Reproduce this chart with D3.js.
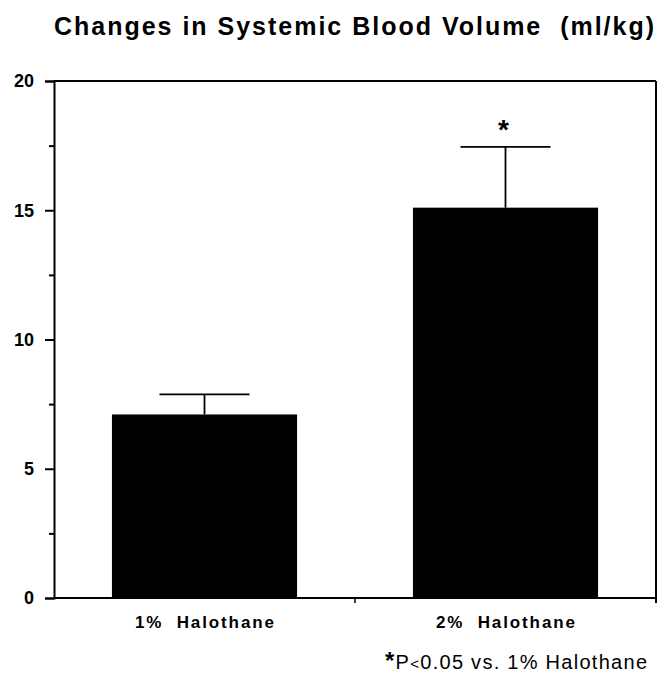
<!DOCTYPE html>
<html>
<head>
<meta charset="utf-8">
<script src="https://cdn.jsdelivr.net/npm/d3@7"></script>
<style>
  body { margin: 0; background: #fff; }
  text { font-family: "Liberation Sans", Arial, sans-serif; fill: #000; }
</style>
</head>
<body>
<div id="chart"></div>
<script>
const groups = ['1% Halothane', '2% Halothane'];
const means = [7.1, 15.1];
const errors = [0.78, 2.35];
const yTicks = [0, 5, 10, 15, 20];
const yMinorTicks = [2.5, 7.5, 12.5, 17.5];
const starGroups = ['2% Halothane'];

const width = 661, height = 677;
const plotLeft = 54, plotRight = 656, plotTop = 81, plotBottom = 598;

const svg = d3.select('#chart').append('svg')
    .attr('width', width)
    .attr('height', height);

const x = d3.scaleBand().domain(groups).range([plotLeft, plotRight])
    .paddingInner(0.385).paddingOuter(0.1925);
const y = d3.scaleLinear().domain([0, 20]).range([plotBottom, plotTop]);

// title
svg.append('text')
    .attr('x', 54).attr('y', 35)
    .attr('textLength', 600).attr('lengthAdjust', 'spacing')
    .style('font-size', '25px').style('font-weight', 'bold')
    .style('white-space', 'pre')
    .text('Changes in Systemic Blood Volume  (ml/kg)');

// bars
svg.selectAll('.bar').data(groups).join('rect')
    .attr('class', 'bar')
    .attr('x', d => x(d))
    .attr('y', (d, i) => y(means[i]))
    .attr('width', x.bandwidth())
    .attr('height', (d, i) => y(0) - y(means[i]))
    .style('fill', '#000');

// error bars
const eb = svg.selectAll('.err').data(groups).join('g').attr('class', 'err');
eb.append('line')
    .attr('x1', d => x(d) + x.bandwidth() / 2)
    .attr('x2', d => x(d) + x.bandwidth() / 2)
    .attr('y1', (d, i) => y(means[i]))
    .attr('y2', (d, i) => y(means[i] + errors[i]))
    .attr('stroke', '#000').attr('stroke-width', 1.8);
eb.append('line')
    .attr('x1', d => x(d) + x.bandwidth() / 2 - 45)
    .attr('x2', d => x(d) + x.bandwidth() / 2 + 45)
    .attr('y1', (d, i) => y(means[i] + errors[i]))
    .attr('y2', (d, i) => y(means[i] + errors[i]))
    .attr('stroke', '#000').attr('stroke-width', 1.8);

// significance star
svg.selectAll('.star').data(starGroups).join('text')
    .attr('class', 'star')
    .attr('x', d => x(d) + x.bandwidth() / 2 - 2)
    .attr('y', d => y(means[groups.indexOf(d)] + errors[groups.indexOf(d)]) - 8)
    .attr('text-anchor', 'middle')
    .style('font-size', '28px').style('font-weight', 'bold')
    .text('*');

// frame: top and right
svg.append('line').attr('x1', plotLeft).attr('x2', plotRight).attr('y1', plotTop).attr('y2', plotTop)
    .attr('stroke', '#000').attr('stroke-width', 2);
svg.append('line').attr('x1', plotRight).attr('x2', plotRight).attr('y1', plotTop).attr('y2', plotBottom + 5)
    .attr('stroke', '#000').attr('stroke-width', 2);

// left axis
const yAxis = svg.append('g')
    .attr('transform', `translate(${plotLeft},0)`)
    .call(d3.axisLeft(y).tickValues(yTicks).tickSize(9).tickPadding(11));
yAxis.select('.domain').attr('stroke-width', 2);
yAxis.selectAll('.tick line').attr('stroke-width', 2);
yAxis.selectAll('.tick text')
    .style('font-size', '18px').style('font-weight', 'bold')
    .attr('font-family', null);

svg.append('g')
    .attr('transform', `translate(${plotLeft},0)`)
    .call(d3.axisLeft(y).tickValues(yMinorTicks).tickSize(5).tickFormat(''))
    .call(g => g.select('.domain').remove())
    .selectAll('.tick line').attr('stroke-width', 2);

// bottom axis
const xAxis = svg.append('g')
    .attr('transform', `translate(0,${plotBottom})`)
    .call(d3.axisBottom(x).tickSize(0).tickPadding(18));
xAxis.select('.domain').attr('d', `M${plotLeft},0H${plotRight}`).attr('stroke-width', 2);
xAxis.selectAll('.tick text')
    .style('font-size', '17px').style('font-weight', 'bold')
    .style('white-space', 'pre')
    .attr('font-family', null)
    .attr('textLength', 139).attr('lengthAdjust', 'spacing')
    .text(d => d.replace(' ', '  '));

// boundary tick between groups
const midX = (x(groups[0]) + x.bandwidth() + x(groups[1])) / 2;
svg.append('line')
    .attr('x1', midX).attr('x2', midX)
    .attr('y1', plotBottom).attr('y2', plotBottom + 5)
    .attr('stroke', '#000').attr('stroke-width', 1.5);

// footnote
const note = svg.append('text')
    .attr('x', 385).attr('y', 669)
    .attr('textLength', 262).attr('lengthAdjust', 'spacing')
    .style('font-size', '20px');
note.append('tspan').style('font-size', '24px').style('font-weight', 'bold').text('*');
note.append('tspan').text('P');
note.append('tspan').style('font-size', '15px').text('<');
note.append('tspan').text('0.05 vs. 1% Halothane');
</script>
</body>
</html>
